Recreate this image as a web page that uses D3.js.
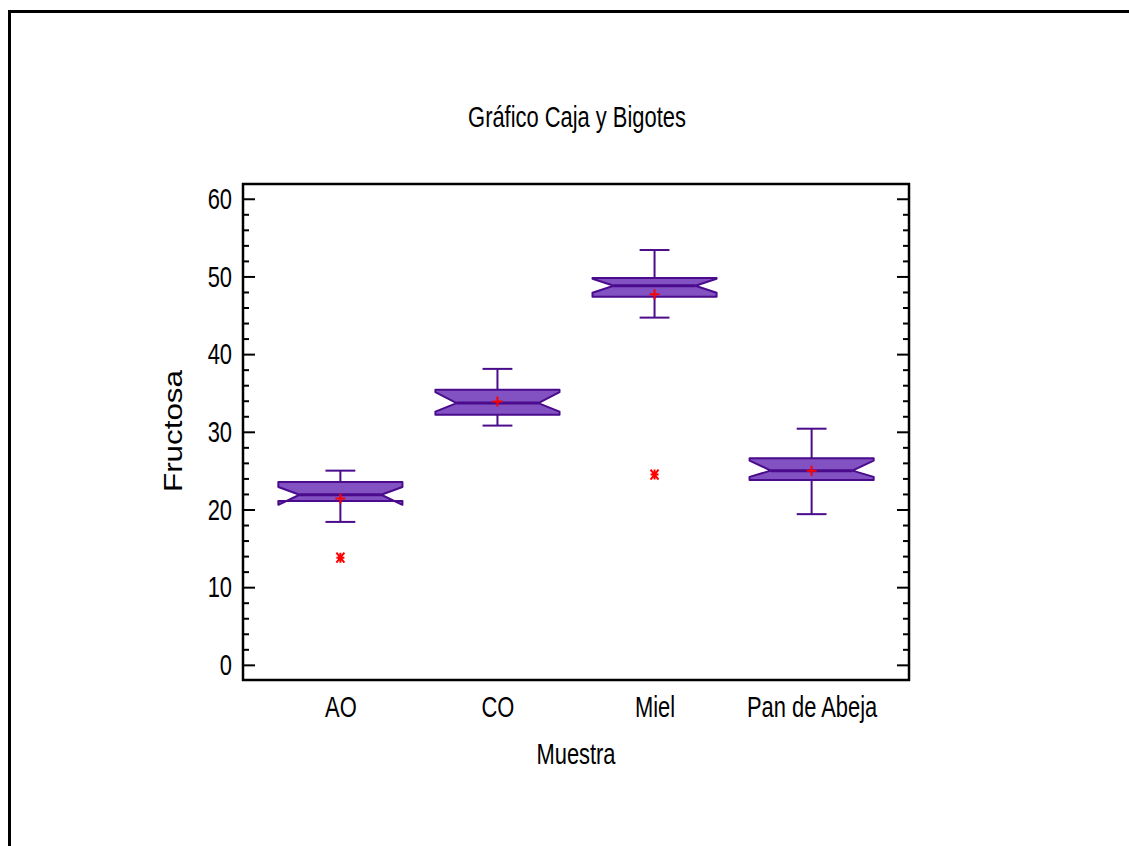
<!DOCTYPE html>
<html>
<head>
<meta charset="utf-8">
<script src="https://cdn.jsdelivr.net/npm/d3@7"></script>
<style>
  body { margin: 0; background: #fff; }
  svg { display: block; }
  text { font-family: "Liberation Sans", Arial, sans-serif; fill: #000; }
</style>
</head>
<body>
<svg id="chart" width="1129" height="846"></svg>
<script>
// data
const categories = ["AO", "CO", "Miel", "Pan de Abeja"];
const whiskerLow = [18.4, 30.8, 44.7, 19.4];
const q1 = [21.1, 32.2, 47.4, 23.8];
const median = [21.9, 33.7, 48.8, 25.0];
const q3 = [23.55, 35.4, 49.8, 26.6];
const whiskerHigh = [25.0, 38.1, 53.4, 30.4];
const notchLow = [20.6, 32.6, 47.9, 24.2];
const notchHigh = [22.9, 35.1, 49.7, 26.3];
const means = [21.4, 33.9, 47.7, 25.0];
const outlierCats = ["AO", "Miel"];
const outlierVals = [13.8, 24.5];
const yTicks = [0, 10, 20, 30, 40, 50, 60];
const yMinorTicks = d3.range(0, 62, 2).filter(v => v % 10 !== 0);

const svg = d3.select("#chart");
const plotL = 243, plotR = 909, plotT = 184, plotB = 680;
const fill = "#8352c2", stroke = "#4a0b8c";
const sx = 0.73; // narrow look of the original font

const x = d3.scalePoint().domain(categories).range([plotL, plotR]).padding(0.62);
const y = d3.scaleLinear().domain([-1.95, 61.9]).range([plotB, plotT]);
const step = x.step();

// outer frame (runs off the right and bottom of the image)
svg.append("rect")
    .attr("x", 9.5).attr("y", 11.5)
    .attr("width", 1300).attr("height", 1000)
    .attr("fill", "none").attr("stroke", "#000").attr("stroke-width", 3);

// title
svg.append("text")
    .attr("transform", `translate(577,127) scale(${sx},1)`)
    .attr("text-anchor", "middle")
    .style("font-size", "30px")
    .text("Gráfico Caja y Bigotes");

// y labels on the left
const yLab = svg.append("g")
    .attr("transform", `translate(${plotL},0)`)
    .call(d3.axisLeft(y).tickValues(yTicks).tickSize(0).tickPadding(11));
yLab.select(".domain").remove();
yLab.selectAll("text")
    .style("font-size", "30px")
    .attr("x", -11 / sx)
    .attr("transform", `scale(${sx},1)`);
yLab.attr("font-family", null);

// inner ticks, left and right
function inner(g, axis, size, vals) {
    g.call(axis.tickValues(vals).tickSize(size).tickFormat(""));
    g.select(".domain").remove();
    g.selectAll("line").attr("stroke", "#000").attr("stroke-width", 2);
}
svg.append("g").attr("transform", `translate(${plotL},0)`).call(inner, d3.axisRight(y), 12, yTicks);
svg.append("g").attr("transform", `translate(${plotL},0)`).call(inner, d3.axisRight(y), 6, yMinorTicks);
svg.append("g").attr("transform", `translate(${plotR},0)`).call(inner, d3.axisLeft(y), 12, yTicks);
svg.append("g").attr("transform", `translate(${plotR},0)`).call(inner, d3.axisLeft(y), 6, yMinorTicks);

// x labels
const xLab = svg.append("g")
    .attr("transform", `translate(0,${plotB})`)
    .call(d3.axisBottom(x).tickSize(0).tickPadding(16));
xLab.select(".domain").remove();
xLab.attr("font-family", null);
xLab.selectAll("text")
    .style("font-size", "30px")
    .attr("transform", `scale(${sx},1)`);

// plot border
svg.append("rect")
    .attr("x", plotL).attr("y", plotT)
    .attr("width", plotR - plotL).attr("height", plotB - plotT)
    .attr("fill", "none").attr("stroke", "#000").attr("stroke-width", 2.5);

// axis titles
svg.append("text")
    .attr("transform", `translate(576,764) scale(${sx},1)`)
    .attr("text-anchor", "middle")
    .style("font-size", "30px")
    .text("Muestra");

svg.append("text")
    .attr("transform", "translate(182,431) rotate(-90)")
    .attr("text-anchor", "middle")
    .attr("textLength", 122).attr("lengthAdjust", "spacingAndGlyphs")
    .style("font-size", "26px")
    .text("Fructosa");

// boxes
const boxHalf = step * 0.395, capHalf = step * 0.095, inset = step * 0.135;
const boxes = svg.append("g");
categories.forEach((c, i) => {
    const cx = x(c);
    const l = cx - boxHalf, r = cx + boxHalf;
    const g = boxes.append("g");

    // whiskers
    g.append("line").attr("x1", cx).attr("x2", cx)
        .attr("y1", y(whiskerHigh[i])).attr("y2", y(q3[i]));
    g.append("line").attr("x1", cx).attr("x2", cx)
        .attr("y1", y(whiskerLow[i])).attr("y2", y(q1[i]));
    g.append("line").attr("x1", cx - capHalf).attr("x2", cx + capHalf)
        .attr("y1", y(whiskerHigh[i])).attr("y2", y(whiskerHigh[i]));
    g.append("line").attr("x1", cx - capHalf).attr("x2", cx + capHalf)
        .attr("y1", y(whiskerLow[i])).attr("y2", y(whiskerLow[i]));
    g.selectAll("line").attr("stroke", stroke).attr("stroke-width", 2);

    // notched box
    const p = d3.path();
    p.moveTo(l, y(q3[i]));
    p.lineTo(r, y(q3[i]));
    p.lineTo(r, y(notchHigh[i]));
    p.lineTo(r - inset, y(median[i]));
    p.lineTo(r, y(notchLow[i]));
    p.lineTo(r, y(q1[i]));
    p.lineTo(l, y(q1[i]));
    p.lineTo(l, y(notchLow[i]));
    p.lineTo(l + inset, y(median[i]));
    p.lineTo(l, y(notchHigh[i]));
    p.closePath();
    g.append("path").attr("d", p.toString())
        .attr("fill", fill).attr("stroke", stroke)
        .attr("stroke-width", 2).attr("stroke-linejoin", "round");

    // median
    g.append("line")
        .attr("x1", l + inset).attr("x2", r - inset)
        .attr("y1", y(median[i])).attr("y2", y(median[i]))
        .attr("stroke", stroke).attr("stroke-width", 3);

    // mean marker
    const my = y(means[i]);
    g.append("path")
        .attr("d", `M${cx - 5},${my}H${cx + 5}M${cx},${my - 5}V${my + 5}`)
        .attr("stroke", "#ff0000").attr("stroke-width", 2);
});

// outliers
outlierCats.forEach((c, i) => {
    const ox = x(c), oy = y(outlierVals[i]);
    svg.append("path")
        .attr("d", `M${ox - 4},${oy - 5}L${ox + 4},${oy + 5}M${ox + 4},${oy - 5}L${ox - 4},${oy + 5}M${ox - 4},${oy}H${ox + 4}M${ox},${oy - 5}V${oy + 5}`)
        .attr("stroke", "#ff0000").attr("stroke-width", 2);
});
</script>
</body>
</html>
